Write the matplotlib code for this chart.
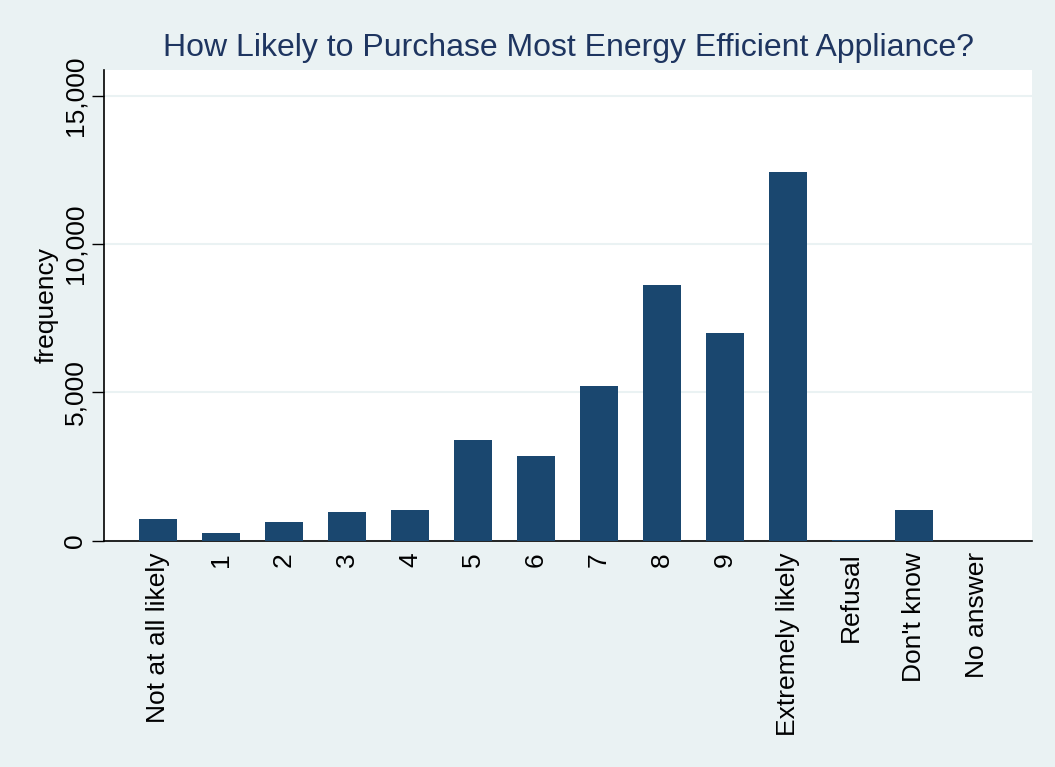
import matplotlib
matplotlib.use("Agg")
import matplotlib.pyplot as plt
import numpy as np

categories = ["Not at all likely", "1", "2", "3", "4", "5", "6", "7", "8", "9",
              "Extremely likely", "Refusal", "Don't know", "No answer"]
frequency = [741, 269, 630, 976, 1044, 3400, 2862, 5219, 8620, 7003,
             12424, 30, 1044, 0]
yticks = [0, 5000, 10000, 15000]

plt.rcParams['font.family'] = ['Liberation Sans', 'DejaVu Sans']

bg = "#EAF2F3"
barcol = "#1A476F"

fig = plt.figure(figsize=(10.55, 7.67), dpi=100, facecolor=bg)
ax = fig.add_axes([0.0986, 0.2947, 0.8794, 0.614])
ax.set_facecolor("white")

x = np.arange(len(categories))
ax.bar(x, frequency, width=0.6, color=barcol, zorder=3)

ax.set_xlim(-0.857, len(categories) - 1 + 0.87)
ax.set_ylim(0, 15860)
ax.set_yticks(yticks)
ax.set_yticklabels([f"{v:,}" for v in yticks], rotation=90, va="center", fontsize=19)
ax.yaxis.grid(True, color=bg, linewidth=1.5, zorder=0)
ax.tick_params(axis="y", length=9, width=1, pad=3)
ax.set_xticks(x)
ax.set_xticklabels(categories, rotation=90, fontsize=19)
ax.tick_params(axis="x", length=0, pad=8)

for side in ("top", "right"):
    ax.spines[side].set_visible(False)
for side in ("left", "bottom"):
    ax.spines[side].set_linewidth(1.2)

ax.set_ylabel("frequency", fontsize=19)
ax.yaxis.set_label_coords(-0.0485, 0.5)
fig.text(0.539, 0.938, "How Likely to Purchase Most Energy Efficient Appliance?",
         ha="center", va="center", fontsize=23, color="#1E3560")

fig.savefig("out.png", facecolor=bg)
